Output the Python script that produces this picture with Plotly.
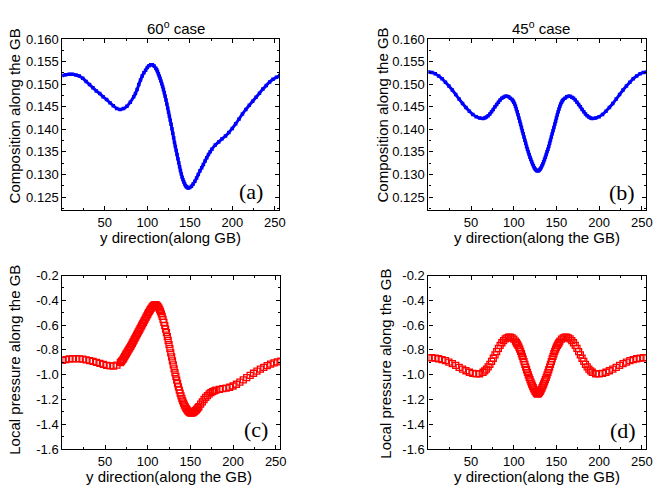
import plotly.graph_objects as go

# ---------------- data ----------------
# (a) 60 degree case: composition along the GB
xa = [0, 4, 8, 12, 16, 20, 24, 28, 32, 36, 40, 44, 48, 52, 56, 60, 64, 68, 72, 76, 80, 84,
      86, 88, 90, 92, 94, 96, 98, 100, 102, 104, 106, 108, 110,
      111, 112, 113, 114, 115, 116, 117, 118, 119, 120, 121, 122, 123, 124, 125, 126, 127, 128,
      129, 130, 131, 132, 133, 134, 135, 136, 137, 138, 139, 140, 141, 142, 143, 144, 145, 146, 147, 148,
      150, 152, 154, 156, 158, 160, 162, 164, 166, 168, 170, 172, 174, 176,
      180, 184, 188, 192, 196, 200, 204, 208, 212, 216, 220, 224, 228, 232, 236, 240, 244, 248, 252, 256]
ya = [0.1519, 0.1521, 0.1522, 0.1522, 0.1520, 0.1518, 0.1513, 0.1506, 0.1499, 0.1492, 0.1485, 0.1479,
      0.1472, 0.1466, 0.1459, 0.1452, 0.1446, 0.1444, 0.1446, 0.1451, 0.1460, 0.1472,
      0.1479, 0.1488, 0.1499, 0.1509, 0.1518, 0.1525, 0.1531, 0.1537, 0.1541, 0.1543, 0.1543, 0.1540, 0.1535,
      0.1532, 0.1528, 0.1523, 0.1518, 0.1513, 0.1507, 0.1501, 0.1495, 0.1488, 0.1481, 0.1473, 0.1465,
      0.1456, 0.1447, 0.1438, 0.1429, 0.1420, 0.1411,
      0.1401, 0.1391, 0.1381, 0.1371, 0.1362, 0.1353, 0.1344, 0.1335, 0.1326, 0.1317, 0.1309, 0.1301,
      0.1294, 0.1288, 0.1283, 0.1279, 0.1275, 0.1273, 0.1271, 0.1270,
      0.1271, 0.1274, 0.1279, 0.1285, 0.1292, 0.1300, 0.1308, 0.1315, 0.1322, 0.1330, 0.1337, 0.1344,
      0.1350, 0.1356,
      0.1365, 0.1372, 0.1379, 0.1385, 0.1393, 0.1402, 0.1412, 0.1423, 0.1434, 0.1444, 0.1453, 0.1462,
      0.1471, 0.1480, 0.1489, 0.1497, 0.1505, 0.1511, 0.1515, 0.1519]

# (b) 45 degree case: composition along the GB
xb = [0, 4, 8, 12, 16, 20, 24, 28, 32, 36, 40, 44, 48, 52, 56, 60, 64,
      66, 68, 70, 72, 74, 76, 78, 80, 82, 84, 86, 88, 90, 92, 94, 96,
      98, 99, 100, 101, 102, 103, 104, 105, 106, 107, 108, 109, 110, 111, 112, 113, 114, 115, 116, 117,
      118, 119, 120, 121, 122, 123, 124, 125, 126, 127, 128,
      129, 130, 131, 132, 133, 134, 135, 136, 137, 138, 139, 140, 141, 142, 143, 144, 145, 146, 147, 148,
      149, 150, 151, 152, 153, 154, 155, 156, 157, 158,
      160, 162, 164, 166, 168, 170, 172, 174, 176, 178, 180, 182, 184, 186, 188, 190,
      192, 196, 200, 204, 208, 212, 216, 220, 224, 228, 232, 236, 240, 244, 248, 252, 256]
yb = [0.1527, 0.1526, 0.1523, 0.1518, 0.1512, 0.1504, 0.1496, 0.1487, 0.1477, 0.1467, 0.1457, 0.1448,
      0.1440, 0.1433, 0.1428, 0.1425, 0.1424,
      0.1425, 0.1427, 0.1430, 0.1434, 0.1439, 0.1444, 0.1450, 0.1455, 0.1460, 0.1465, 0.1469, 0.1471,
      0.1473, 0.1473, 0.1472, 0.1469,
      0.1466, 0.1463, 0.1460, 0.1456, 0.1451, 0.1445, 0.1439, 0.1432, 0.1425, 0.1418, 0.1411, 0.1404,
      0.1397, 0.1390, 0.1383, 0.1376, 0.1369, 0.1362, 0.1356, 0.1350, 0.1344, 0.1338, 0.1333, 0.1328,
      0.1323, 0.1319, 0.1315, 0.1312, 0.1310, 0.1308, 0.1308,
      0.1308, 0.1310, 0.1312, 0.1315, 0.1319, 0.1323, 0.1328, 0.1333, 0.1338, 0.1344, 0.1350, 0.1356,
      0.1362, 0.1369, 0.1376, 0.1383, 0.1390, 0.1397, 0.1404, 0.1411, 0.1418, 0.1425, 0.1432, 0.1439,
      0.1445, 0.1451, 0.1456, 0.1460, 0.1463, 0.1466,
      0.1469, 0.1472, 0.1473, 0.1473, 0.1471, 0.1469, 0.1465, 0.1460, 0.1455, 0.1450, 0.1444, 0.1439,
      0.1434, 0.1430, 0.1427, 0.1425,
      0.1424, 0.1425, 0.1428, 0.1433, 0.1440, 0.1448, 0.1457, 0.1467, 0.1477, 0.1487, 0.1496, 0.1504,
      0.1512, 0.1518, 0.1523, 0.1526, 0.1527]

# (c) 60 degree case: local pressure along the GB
xc = [0, 4, 8, 12, 16, 20, 24, 28, 32, 36, 40, 44, 48, 52, 56, 60, 64, 68,
      69, 70, 71, 72, 73, 74, 75, 76, 77, 78, 79, 80, 81, 82, 83, 84, 85, 86, 87, 88, 89, 90, 91, 92,
      93, 94, 95, 96, 97, 98, 99, 100, 101, 102, 103, 104, 105, 106, 107, 108, 109, 110, 111, 112, 113,
      114, 115, 116, 117, 118, 119, 120, 121, 122, 123, 124, 125, 126, 127, 128, 129, 130, 131, 132, 133,
      134, 135, 136, 137, 138, 139, 140, 141, 142, 143, 144, 145, 146, 147, 148, 149, 150, 151, 152, 153,
      154, 155, 156, 157, 158, 159, 160,
      162, 164, 166, 168, 170, 172, 174, 176, 178, 180,
      184, 188, 192, 196, 200, 204, 208, 212, 216, 220, 224, 228, 232, 236, 240, 244, 248, 252, 256]
yc = [-0.885, -0.878, -0.873, -0.871, -0.870, -0.872, -0.875, -0.880, -0.886, -0.893, -0.901, -0.909,
      -0.917, -0.924, -0.929, -0.930, -0.922, -0.902,
      -0.895, -0.886, -0.876, -0.865, -0.853, -0.841, -0.829, -0.817, -0.805, -0.794, -0.783, -0.771,
      -0.759, -0.746, -0.733, -0.720, -0.707, -0.694, -0.681, -0.668, -0.655, -0.642, -0.629, -0.616,
      -0.603, -0.590, -0.577, -0.564, -0.551, -0.538, -0.525, -0.512, -0.499, -0.487, -0.476, -0.465,
      -0.455, -0.447, -0.441, -0.437, -0.435, -0.437, -0.442, -0.450, -0.461, -0.474, -0.490, -0.509,
      -0.530, -0.553, -0.578, -0.604, -0.632, -0.661, -0.692, -0.724, -0.757, -0.790, -0.823, -0.856,
      -0.889, -0.921, -0.953, -0.984, -1.014, -1.043, -1.071, -1.098, -1.124, -1.148, -1.171, -1.192,
      -1.211, -1.229, -1.245, -1.259, -1.271, -1.282, -1.291, -1.298, -1.303, -1.307, -1.309, -1.308,
      -1.305, -1.301, -1.296, -1.290, -1.283, -1.275, -1.266, -1.257,
      -1.238, -1.219, -1.200, -1.183, -1.168, -1.155, -1.145, -1.137, -1.130, -1.125,
      -1.118, -1.113, -1.108, -1.101, -1.091, -1.077, -1.060, -1.042, -1.024, -1.006, -0.988, -0.971,
      -0.955, -0.940, -0.926, -0.914, -0.904, -0.896, -0.890]

# (d) 45 degree case: local pressure along the GB
xd = [0, 4, 8, 12, 16, 20, 24, 28, 32, 36, 40, 44, 48, 52, 56, 60, 64,
      66, 68, 70, 72, 74, 76, 78, 80, 82, 84, 86, 88, 90, 92, 94, 96, 98, 100, 102,
      103, 104, 105, 106, 107, 108, 109, 110, 111, 112, 113, 114, 115, 116, 117, 118, 119, 120, 121,
      122, 123, 124, 125, 126, 127, 128,
      129, 130, 131, 132, 133, 134, 135, 136, 137, 138, 139, 140, 141, 142, 143, 144, 145, 146, 147, 148,
      149, 150, 151, 152, 153,
      154, 156, 158, 160, 162, 164, 166, 168, 170, 172, 174, 176, 178, 180, 182, 184, 186, 188, 190,
      192, 196, 200, 204, 208, 212, 216, 220, 224, 228, 232, 236, 240, 244, 248, 252, 256]
yd = [-0.862, -0.863, -0.866, -0.871, -0.878, -0.887, -0.898, -0.911, -0.925, -0.940, -0.955, -0.968,
      -0.980, -0.989, -0.994, -0.992, -0.980,
      -0.969, -0.955, -0.937, -0.916, -0.893, -0.867, -0.840, -0.813, -0.787, -0.763, -0.742, -0.725,
      -0.711, -0.702, -0.697, -0.697, -0.702, -0.713, -0.729,
      -0.742, -0.752, -0.764, -0.778, -0.794, -0.811, -0.831, -0.852, -0.873, -0.894, -0.916, -0.938,
      -0.960, -0.981, -1.001, -1.021, -1.040, -1.058, -1.075, -1.091, -1.107, -1.122, -1.135, -1.145,
      -1.152, -1.156,
      -1.152, -1.145, -1.135, -1.122, -1.107, -1.091, -1.075, -1.058, -1.040, -1.021, -1.001, -0.981,
      -0.960, -0.938, -0.916, -0.894, -0.873, -0.852, -0.831, -0.811, -0.794, -0.778, -0.764, -0.752,
      -0.742,
      -0.729, -0.713, -0.702, -0.697, -0.697, -0.702, -0.711, -0.725, -0.742, -0.763, -0.787, -0.813,
      -0.840, -0.867, -0.893, -0.916, -0.937, -0.955, -0.969,
      -0.980, -0.992, -0.994, -0.989, -0.980, -0.968, -0.955, -0.940, -0.925, -0.911, -0.898, -0.887,
      -0.878, -0.871, -0.866, -0.863, -0.862]

x_ticks = [50, 100, 150, 200, 250]
comp_ticks = [0.125, 0.130, 0.135, 0.140, 0.145, 0.150, 0.155, 0.160]
comp_labels = ["0.125", "0.130", "0.135", "0.140", "0.145", "0.150", "0.155", "0.160"]
pres_ticks = [-1.6, -1.4, -1.2, -1.0, -0.8, -0.6, -0.4, -0.2]
pres_labels = ["-1.6", "-1.4", "-1.2", "-1.0", "-0.8", "-0.6", "-0.4", "-0.2"]

titles = ["60<sup>o</sup> case", "45<sup>o</sup> case"]
xtitles = ["y direction(along GB)", "y direction(along the GB)",
           "y direction(along the GB)", "y direction(along the GB)"]
ytitles = ["Composition along the GB", "Composition along the GB",
           "Local pressure along the GB", "Local pressure along the GB"]
letters = ["(a)", "(b)", "(c)", "(d)"]

# ---------------- figure ----------------
W, H = 660, 492
FONT = "Arial, Liberation Sans, sans-serif"

def px(v):
    return v / W

def py(v):
    return 1 - v / H

# plot areas in pixels: (left, right, top, bottom)
areas = [(63, 282, 33, 209.5), (433, 653, 33, 209.5), (63, 283, 277, 456), (433, 653, 277, 456)]

fig = go.Figure()
blue = "#0000ff"
red = "#ff0000"

series = [(xa, ya), (xb, yb), (xc, yc), (xd, yd)]
for i, (xs, ys) in enumerate(series):
    suffix = "" if i == 0 else str(i + 1)
    if i < 2:
        tr = go.Scatter(x=xs, y=ys, mode="lines+markers",
                        line=dict(color=blue, width=3, shape="spline", smoothing=0.6),
                        marker=dict(symbol="square", size=3.5, color=blue, line=dict(width=0)))
    else:
        tr = go.Scatter(x=xs, y=ys, mode="markers",
                        marker=dict(symbol="square-open", size=6, color=red,
                                    line=dict(width=1.3, color=red)))
    tr.update(xaxis="x" + suffix, yaxis="y" + suffix, showlegend=False)
    fig.add_trace(tr)

layout = dict(width=W, height=H, autosize=False, margin=dict(l=0, r=0, t=0, b=0),
              paper_bgcolor="white", plot_bgcolor="white",
              font=dict(family=FONT, size=13, color="black"))

for i, (l, r, t, b) in enumerate(areas):
    suffix = "" if i == 0 else str(i + 1)
    xa_ = dict(domain=[px(l), px(r)], anchor="y" + suffix, range=[0, 255],
               tickmode="array", tickvals=x_ticks, ticks="inside", ticklen=4, tickwidth=1,
               tickcolor="black", showline=True, linecolor="black", linewidth=1.2,
               mirror="ticks", showgrid=False, zeroline=False,
               tickfont=dict(size=13), ticklabelstandoff=0,
               minor=dict(tickmode="linear", tick0=0, dtick=25, ticks="inside",
                          ticklen=2, tickcolor="black", showgrid=False))
    if i < 2:
        ya_ = dict(domain=[py(b), py(t)], anchor="x" + suffix, range=[0.1221, 0.160],
                   tickmode="array", tickvals=comp_ticks, ticktext=comp_labels,
                   minor=dict(tickmode="linear", tick0=0.1225, dtick=0.005, ticks="inside",
                              ticklen=2, tickcolor="black", showgrid=False))
    else:
        ya_ = dict(domain=[py(b), py(t)], anchor="x" + suffix, range=[-1.6, -0.2],
                   tickmode="array", tickvals=pres_ticks, ticktext=pres_labels,
                   minor=dict(tickmode="linear", tick0=-1.5, dtick=0.2, ticks="inside",
                              ticklen=2, tickcolor="black", showgrid=False))
    ya_.update(ticks="inside", ticklen=4, tickwidth=1, tickcolor="black", showline=True,
               linecolor="black", linewidth=1.2, mirror="ticks", showgrid=False,
               zeroline=False, tickfont=dict(size=13))
    layout["xaxis" + suffix] = xa_
    layout["yaxis" + suffix] = ya_

annotations = []
# column titles
annotations.append(dict(x=px(178), y=py(21), xref="paper", yref="paper", text=titles[0],
                        showarrow=False, font=dict(size=15), xanchor="center", yanchor="middle"))
annotations.append(dict(x=px(547), y=py(21), xref="paper", yref="paper", text=titles[1],
                        showarrow=False, font=dict(size=15), xanchor="center", yanchor="middle"))
# x-axis titles
xt_pos = [(172.5, 238), (543, 238), (171, 484.5), (543, 484.5)]
for (cx, cy), t in zip(xt_pos, xtitles):
    annotations.append(dict(x=px(cx), y=py(cy), xref="paper", yref="paper", text=t,
                            showarrow=False, font=dict(size=15), xanchor="center", yanchor="middle"))
# y-axis titles
yt_pos = [(15, 112), (387, 111), (15, 364), (390, 368)]
for (cx, cy), t in zip(yt_pos, ytitles):
    annotations.append(dict(x=px(cx), y=py(cy), xref="paper", yref="paper", text=t,
                            textangle=-90, showarrow=False, font=dict(size=15),
                            xanchor="center", yanchor="middle"))
# panel letters
lt_pos = [(254, 190), (629, 191), (259, 436), (630, 437)]
for (cx, cy), t in zip(lt_pos, letters):
    annotations.append(dict(x=px(cx), y=py(cy), xref="paper", yref="paper", text=t,
                            showarrow=False,
                            font=dict(size=22, family="Times New Roman, Liberation Serif, serif"),
                            xanchor="center", yanchor="middle"))
layout["annotations"] = annotations

fig.update_layout(**layout)
fig.write_html("out.html",
               config={"responsive": False, "displayModeBar": False},
               post_script="document.body.style.margin='0';document.body.style.overflow='hidden';")
